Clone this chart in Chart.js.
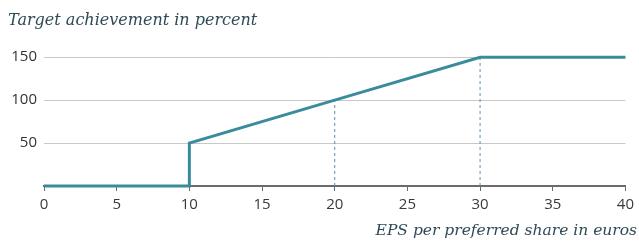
<!DOCTYPE html>
<html>
<head>
<meta charset="utf-8">
<script src="https://cdn.jsdelivr.net/npm/chart.js@4"></script>
<style>
  html, body { margin: 0; padding: 0; background: #fff; }
  #wrap { width: 639px; height: 244px; }
</style>
</head>
<body>
<div id="wrap"><canvas id="myChart" width="639" height="244"></canvas></div>
<script>
// EPS (euros) and target achievement (percent) along the payout curve
const epsValues = [0, 10, 10, 20, 30, 40];
const achievement = [0, 0, 50, 100, 150, 150];

// dashed helper lines down to the axis
const markerEps = [20, 30];
const markerAchievement = [100, 150];

const xTicks = [0, 5, 10, 15, 20, 25, 30, 35, 40];
const yTicks = [50, 100, 150];

const yTitle = 'Target achievement in percent';
const xTitle = 'EPS per preferred share in euros';

const teal = '#3a8b9c';
const captionColor = '#2f4a56';
const captionFont = 'italic 15.5px "DejaVu Serif"';

// Build the curve points
const curve = epsValues.map((x, i) => ({ x: x, y: achievement[i] }));

// Build the dashed verticals, separated by a gap
const markers = [];
markerEps.forEach((x, i) => {
  if (i > 0) markers.push({ x: x, y: null });
  markers.push({ x: x, y: 0 });
  markers.push({ x: x, y: markerAchievement[i] });
});

// Draws the x axis caption flush with the right edge of the canvas
const xCaption = {
  id: 'xCaption',
  afterDraw(chart) {
    const c = chart.ctx;
    c.save();
    c.font = captionFont;
    c.fillStyle = captionColor;
    c.textAlign = 'right';
    c.textBaseline = 'alphabetic';
    c.fillText(xTitle, chart.width - 2, chart.height - 9);
    c.restore();
  }
};

const ctx = document.getElementById('myChart').getContext('2d');
new Chart(ctx, {
  type: 'line',
  data: {
    datasets: [
      {
        data: markers,
        borderColor: '#5a8fb5',
        borderWidth: 1,
        borderDash: [3, 3],
        pointRadius: 0,
        spanGaps: false,
        order: 2
      },
      {
        data: curve,
        borderColor: teal,
        borderWidth: 3,
        pointRadius: 0,
        tension: 0,
        clip: 6,
        order: 1
      }
    ]
  },
  plugins: [xCaption],
  options: {
    responsive: false,
    animation: false,
    layout: {
      padding: { left: 8, right: 13, top: 0, bottom: 0 }
    },
    plugins: {
      legend: { display: false },
      tooltip: { enabled: false },
      title: {
        display: true,
        text: yTitle,
        align: 'start',
        color: captionColor,
        font: { family: 'DejaVu Serif', style: 'italic', size: 16, weight: 'normal' },
        padding: { top: 11, bottom: 27 }
      }
    },
    scales: {
      x: {
        type: 'linear',
        min: 0,
        max: 40,
        afterBuildTicks: (scale) => {
          scale.ticks = xTicks.map(v => ({ value: v }));
        },
        afterFit: (scale) => { scale.height = 58; },
        border: { display: true, color: '#6b6b6b', width: 2 },
        grid: {
          drawOnChartArea: false,
          drawTicks: true,
          tickLength: 5,
          color: '#6b6b6b',
          lineWidth: 1
        },
        ticks: {
          color: '#3a3a3a',
          padding: 5,
          maxRotation: 0,
          font: { family: 'Open Sans', size: 15 }
        }
      },
      y: {
        min: 0,
        max: 150,
        afterBuildTicks: (scale) => {
          scale.ticks = yTicks.map(v => ({ value: v }));
        },
        afterFit: (scale) => { scale.width = 36; },
        border: { display: false },
        grid: {
          drawTicks: false,
          color: '#c9c9c9',
          lineWidth: 1
        },
        ticks: {
          color: '#333333',
          padding: 7,
          font: { family: 'Open Sans', size: 15 }
        }
      }
    }
  }
});
</script>
</body>
</html>
